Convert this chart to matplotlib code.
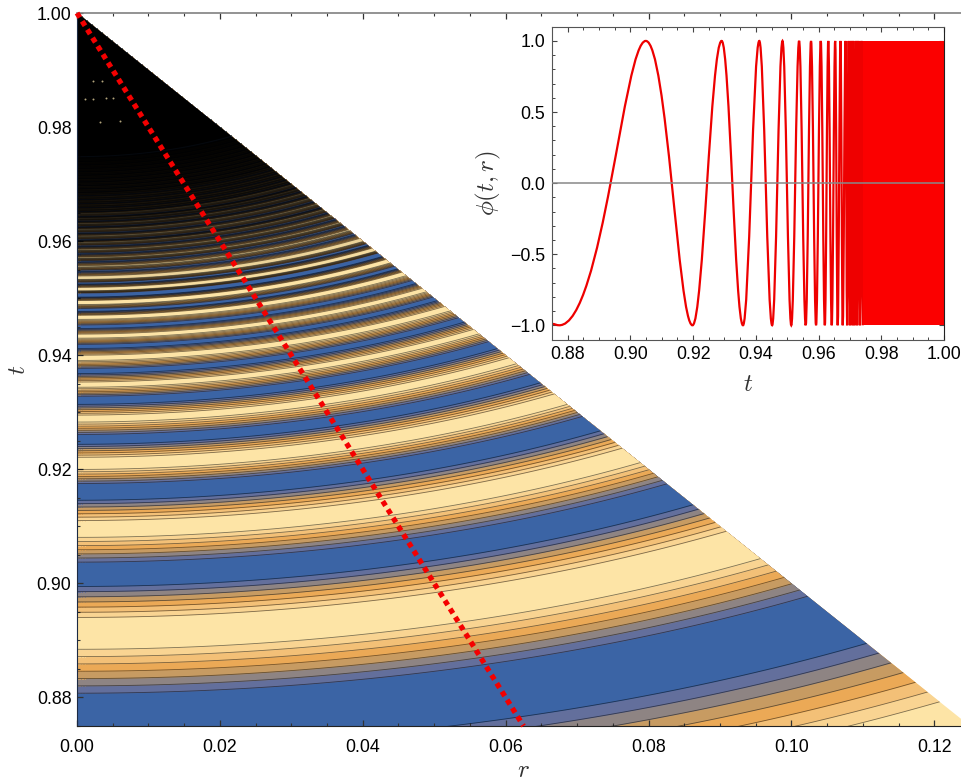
import matplotlib

matplotlib.use("Agg")
import matplotlib.pyplot as plt
import numpy as np
from matplotlib.collections import LineCollection
from matplotlib.patches import PathPatch, Polygon
from matplotlib.path import Path
from matplotlib.ticker import MultipleLocator

# plateaus read along the left edge (r = 0), as t values
plateaus = [
    (0.8450, 0.8591, 1), (0.8712, 0.8807, -1), (0.8885, 0.8940, 1),
    (0.8995, 0.9037, -1), (0.9081, 0.9110, 1), (0.9146, 0.9175, -1),
    (0.9200, 0.9221, 1), (0.9244, 0.9261, -1), (0.9283, 0.9295, 1),
    (0.9314, 0.9328, -1), (0.9344, 0.9353, 1), (0.9368, 0.9377, -1),
    (0.9391, 0.9400, 1), (0.9412, 0.9419, -1), (0.9430, 0.9437, 1),
    (0.9447, 0.9453, -1), (0.9463, 0.9470, 1), (0.9477, 0.9482, -1),
    (0.9489, 0.9496, 1), (0.9502, 0.9509, -1), (0.9513, 0.9519, 1),
    (0.9525, 0.9528, -1), (0.9533, 0.9539, 1),
]
# thin stripes further up, only their centres can be told apart
thin_stripes = [
    0.9548, 0.9556, 0.9565, 0.9571, 0.9579, 0.9585, 0.9592, 0.9598, 0.9603,
    0.9609, 0.9615, 0.9621, 0.9626, 0.9631, 0.9636, 0.9640, 0.9644, 0.9649,
    0.9653, 0.9656, 0.9660, 0.9663, 0.9667, 0.9670, 0.9674, 0.9677, 0.9681,
    0.9684, 0.9687, 0.9690, 0.9693, 0.9696, 0.9699, 0.9702, 0.9705, 0.9708,
    0.9711, 0.9714, 0.9717, 0.9720, 0.9723, 0.9726, 0.9729, 0.9732, 0.9735,
    0.9738, 0.9741, 0.9744, 0.9747,
]
black_from = 0.975
# how much the packed contour lines blacken the stripes
shade_q = [0.950, 0.956, 0.960, 0.965, 0.970, 0.974, 0.978]
shade_a = [0.0, 0.12, 0.3, 0.5, 0.72, 0.9, 1.0]
contour_levels = [-0.75, -0.5, -0.25, 0.0, 0.25, 0.5, 0.75]
band_colors = [
    "#3b64a5", "#636f9c", "#8e8483", "#c79b62", "#eba956", "#f3c077",
    "#f9d492", "#fde4a6",
]
specks_r = [0.0041, 0.0022, 0.0011, 0.0032, 0.0060, 0.0022, 0.0035, 0.0050]
specks_t = [0.9851, 0.9849, 0.9850, 0.9809, 0.9811, 0.9881, 0.9881, 0.9851]

line_r = [0.0, 0.0625]
line_t = [1.0, 0.875]

# extrema of the inset curve
ext_t = [
    0.8750, 0.8773, 0.9049, 0.9198, 0.9291, 0.9359, 0.9411, 0.9452, 0.9485,
    0.9513, 0.9538, 0.9559, 0.9576, 0.9592, 0.9607, 0.9620, 0.9631, 0.9642,
    0.9653, 0.9661, 0.9670, 0.9677, 0.9686, 0.9691, 0.9696, 0.9700, 0.9704,
    0.9708, 0.9711, 0.9715, 0.9720, 0.9723, 0.9727, 0.9732, 0.9737, 0.9741,
]
ext_phi = [-0.99] + [-1, 1] * 17 + [-1]
dense_t = [0.9741, 1.0]

r_curve = np.linspace(0.0, 0.125, 200)


def arc_t(q):
    # contours are ellipse arcs around (r, t) = (0, 1), labelled by their t at r = 0
    return 1 - np.sqrt(np.maximum((1 - q) ** 2 - 0.36 * r_curve**2, 0.0))


knots_q = []
knots_v = []
for lo, hi, sign in plateaus:
    knots_q += [lo, (lo + hi) / 2, hi]
    knots_v += [0.76 * sign, sign, 0.76 * sign]
sign = -1
for q in thin_stripes:
    knots_q.append(q)
    knots_v.append(sign)
    sign = -sign

fig = plt.figure(figsize=(9.62, 7.81), dpi=100)
plt.rcParams["mathtext.fontset"] = "cm"
tick_font = "Liberation Sans"

ax = fig.add_axes([77 / 962, 55 / 781, 893 / 962, 713 / 781])
triangle = Polygon(
    [(0, 1), (0.125, 0.875), (0, 0.875)], transform=ax.transData, fc="none", ec="none"
)
ax.add_patch(triangle)

# paint upward: each crossing of a contour level paints its band from that arc to the top
ax.fill_between(r_curve, 0.875, 1.0, color=band_colors[-1], lw=0, clip_path=triangle)
arcs = []
for q0, q1, v0, v1 in zip(knots_q[:-1], knots_q[1:], knots_v[:-1], knots_v[1:]):
    if v1 == v0:
        continue
    crossings = [lv for lv in contour_levels if min(v0, v1) < lv < max(v0, v1)]
    crossings = sorted(crossings, reverse=v1 < v0)
    for lv in crossings:
        q = q0 + (lv - v0) / (v1 - v0) * (q1 - q0)
        n_below = sum(1 for x in contour_levels if x < lv)
        band = n_below + 1 if v1 > v0 else n_below
        ax.fill_between(r_curve, arc_t(q), 1.0, color=band_colors[band], lw=0, clip_path=triangle)
        arcs.append(np.column_stack([r_curve, arc_t(q)]))
ax.fill_between(r_curve, arc_t(black_from), 1.0, color="black", lw=0, clip_path=triangle)
ax.add_collection(
    LineCollection(arcs, colors="k", linewidths=0.6, alpha=0.5, clip_path=triangle)
)

t_img, r_img = np.mgrid[0.875:1.0:1200j, 0.0:0.125:400j]
q_img = 1 - np.sqrt((1 - t_img) ** 2 + 0.36 * r_img**2)
shade = np.zeros(q_img.shape + (4,))
shade[..., 3] = np.interp(q_img, shade_q, shade_a)
shade_im = ax.imshow(
    shade, extent=(0, 0.125, 0.875, 1.0), origin="lower", aspect="auto", zorder=2.5,
    interpolation="bilinear",
)
shade_im.set_clip_path(triangle)

ax.scatter(specks_r, specks_t, s=2, color="#ffe9b0", alpha=0.7, lw=0, zorder=3)
ax.plot(
    line_r,
    line_t,
    color="#f40000",
    lw=3.8,
    linestyle=(0, (1, 0.85)),
    dash_capstyle="butt",
    zorder=4,
    clip_on=False,
)

ax.set_xlim(0, 0.125)
ax.set_ylim(0.875, 1.0)
ax.xaxis.set_major_locator(MultipleLocator(0.02))
ax.xaxis.set_minor_locator(MultipleLocator(0.005))
ax.yaxis.set_major_locator(MultipleLocator(0.02))
ax.yaxis.set_minor_locator(MultipleLocator(0.005))
ax.xaxis.set_major_formatter("{x:.2f}")
ax.yaxis.set_major_formatter("{x:.2f}")
ax.tick_params(which="major", direction="in", length=4, width=0.9, top=True, labelsize=12.8, color="#333333", pad=4)
ax.tick_params(axis="x", which="major", pad=9)
ax.tick_params(which="minor", direction="in", length=2.2, width=0.8, top=True, color="#333333")
for label in ax.get_xticklabels() + ax.get_yticklabels():
    label.set_fontfamily(tick_font)
ax.spines["top"].set_color("#808080")
ax.spines["top"].set_linewidth(1.2)
ax.spines["left"].set_color("#1c2a44")
ax.spines["bottom"].set_color("#222222")
ax.set_xlabel("$r$", fontsize=18, labelpad=2, color="#333333")
ax.set_ylabel("$t$", fontsize=18, labelpad=5, color="#333333")

ins = fig.add_axes([552 / 962, (781 - 339.5) / 781, 392 / 962, 312.8 / 781])
ins.set_xlim(0.875, 1.0)
ins.set_ylim(-1.1, 1.1)

# smooth arcs between the extrema, flat at both ends; the first arcs lean to the right
arc_pull = {1: (0.5, 0.25), 2: (0.45, 0.3)}
verts = [(ext_t[0], ext_phi[0])]
codes = [Path.MOVETO]
for i in range(len(ext_t) - 1):
    dt = ext_t[i + 1] - ext_t[i]
    a, b = arc_pull.get(i, (0.3642, 0.3642))
    verts += [
        (ext_t[i] + a * dt, ext_phi[i]),
        (ext_t[i + 1] - b * dt, ext_phi[i + 1]),
        (ext_t[i + 1], ext_phi[i + 1]),
    ]
    codes += [Path.CURVE4] * 3
ins.add_patch(PathPatch(Path(verts, codes), fc="none", ec="#ee0000", lw=1.6, zorder=2))
ins.fill_between(dense_t, -1, 1, color="#fb0000", lw=0, zorder=2)
ins.axhline(0, color="#888888", lw=1.1, zorder=3)

ins.xaxis.set_major_locator(MultipleLocator(0.02))
ins.xaxis.set_minor_locator(MultipleLocator(0.005))
ins.yaxis.set_major_locator(MultipleLocator(0.5))
ins.yaxis.set_minor_locator(MultipleLocator(0.1))
ins.xaxis.set_major_formatter("{x:.2f}")
ins.yaxis.set_major_formatter(lambda v, pos: f"{v:.1f}".replace("-", "\u2212"))
ins.tick_params(which="major", direction="in", length=3.5, width=0.8, top=True, right=True, labelsize=12.8, color="#444444", pad=5)
ins.tick_params(which="minor", direction="in", length=2, width=0.7, top=True, right=True, color="#444444")
for label in ins.get_xticklabels() + ins.get_yticklabels():
    label.set_fontfamily(tick_font)
for side in ins.spines:
    ins.spines[side].set_color("#555555")
ins.spines["right"].set_color("#222222")
ins.set_xlabel("$t$", fontsize=18, labelpad=6, color="#333333")
ins.set_ylabel(r"$\phi(t,r)$", fontsize=18, labelpad=5, color="#333333")

fig.savefig("out.png", dpi=100)
